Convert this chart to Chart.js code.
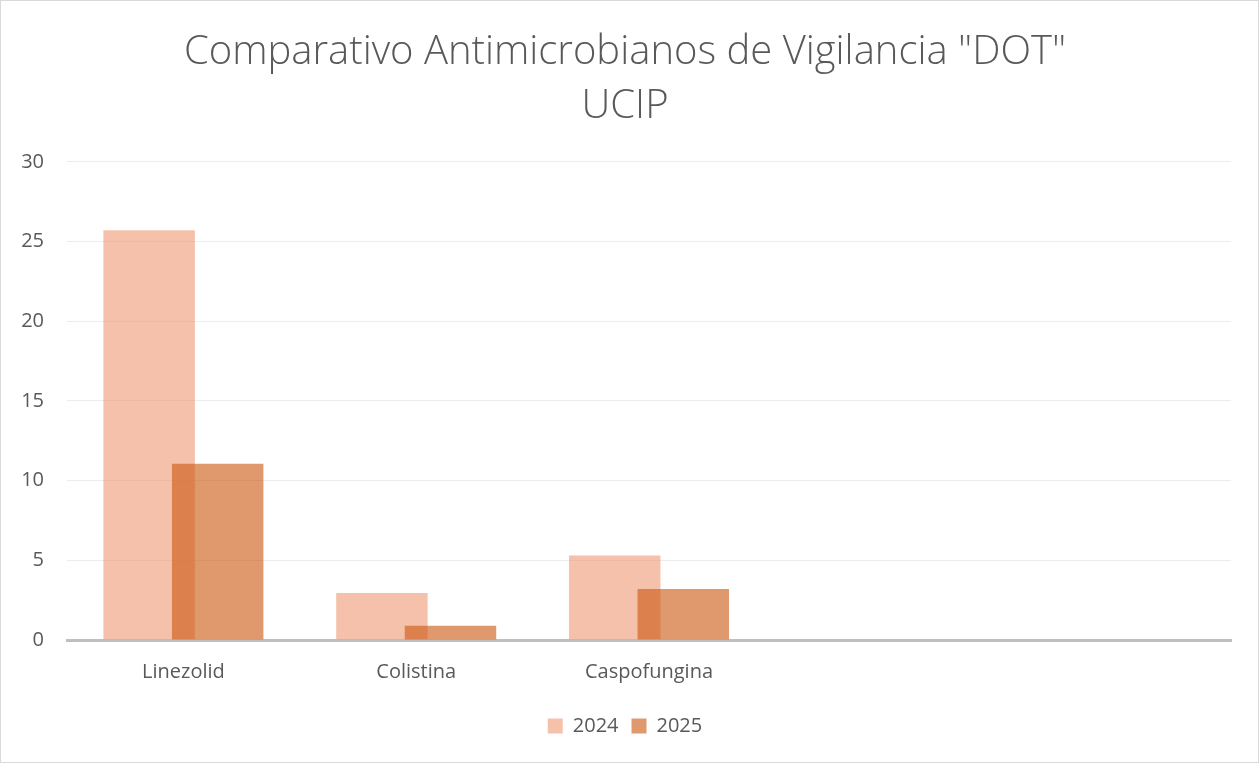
<!DOCTYPE html>
<html>
<head>
<meta charset="utf-8">
<script src="https://cdn.jsdelivr.net/npm/chart.js@4/dist/chart.umd.min.js"></script>
<style>
    body { margin: 0; background: #fff; }
    #marco { width: 1259px; height: 763px; box-sizing: border-box; border: 1px solid #d9d9d9; }
</style>
</head>
<body>
<div id="marco"><canvas id="dotChart" width="1257" height="761"></canvas></div>
<script>
// Datos del gráfico
const categorias = ['Linezolid', 'Colistina', 'Caspofungina', '', ''];
const valores2024 = [25.7, 2.95, 5.3, null, null];
const valores2025 = [11.05, 0.9, 3.2, null, null];
const titulo = ['Comparativo Antimicrobianos de Vigilancia "DOT"', 'UCIP'];

const fuente = "'Open Sans', 'DejaVu Sans', sans-serif";
const gris = '#595959';

// Chart.js pinta la primera serie encima; aquí se invierte para que 2025 quede arriba
const ordenDibujo = {
    id: 'ordenDibujo',
    beforeDatasetsDraw(chart) {
        chart.getSortedVisibleDatasetMetas().forEach(meta => meta.controller.draw());
        return false;
    }
};

function renderDotChart() {
    const ctx = document.getElementById('dotChart').getContext('2d');

    window.dotChart = new Chart(ctx, {
        type: 'bar',
        data: {
            labels: categorias,
            datasets: [
                {
                    label: '2024',
                    data: valores2024,
                    backgroundColor: 'rgba(240,160,125,0.65)',
                    categoryPercentage: 0.589,
                    barPercentage: 1.334
                },
                {
                    label: '2025',
                    data: valores2025,
                    backgroundColor: 'rgba(205,90,20,0.62)',
                    categoryPercentage: 0.589,
                    barPercentage: 1.334
                }
            ]
        },
        options: {
            responsive: false,
            animation: false,
            layout: { padding: { left: 18, right: 27, top: 0, bottom: 16 } },
            plugins: {
                title: {
                    display: true,
                    text: titulo,
                    color: gris,
                    font: { family: fuente, size: 40, weight: '300', lineHeight: 1.36 },
                    padding: { top: 24, bottom: 28 }
                },
                legend: {
                    position: 'bottom',
                    labels: {
                        color: gris,
                        font: { family: fuente, size: 20 },
                        boxWidth: 15,
                        boxHeight: 15,
                        padding: 13
                    }
                },
                tooltip: { enabled: false }
            },
            scales: {
                x: {
                    grid: { display: false, drawTicks: false },
                    border: { color: '#bfbfbf', width: 3 },
                    ticks: { color: gris, font: { family: fuente, size: 20 }, padding: 20 },
                    afterFit: function (eje) { eje.height = 63; }
                },
                y: {
                    min: 0,
                    max: 30,
                    ticks: { stepSize: 5, color: gris, font: { family: fuente, size: 20 }, padding: 23 },
                    grid: { color: '#ececec', lineWidth: 1, drawTicks: false },
                    border: { display: false },
                    afterFit: function (eje) { eje.width = 48; }
                }
            }
        },
        plugins: [ordenDibujo]
    });
}

renderDotChart();
</script>
</body>
</html>
